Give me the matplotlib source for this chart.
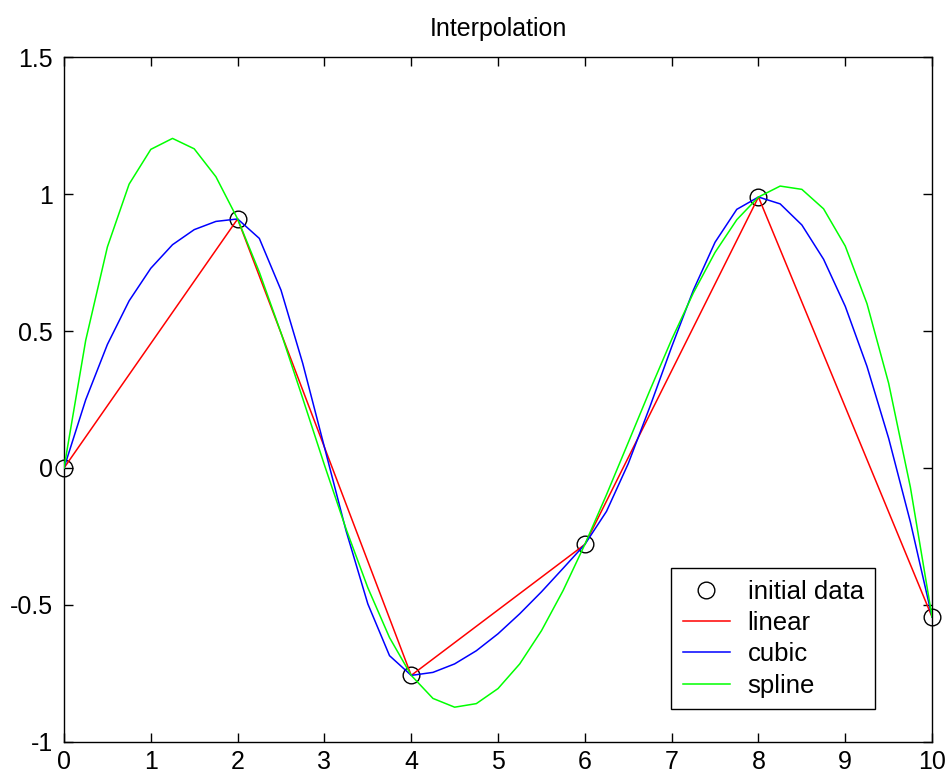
import matplotlib
matplotlib.use("Agg")
import matplotlib.pyplot as plt

plt.rcParams['font.family'] = ['Liberation Sans', 'DejaVu Sans']

# initial data
x_data = [0, 2, 4, 6, 8, 10]
y_data = [0.0, 0.909, -0.757, -0.279, 0.989, -0.544]

# fine grid 0:0.25:10
xi = [i * 0.25 for i in range(41)]

y_cubic = [
    0.000, 0.249, 0.451, 0.610, 0.729, 0.815, 0.870, 0.900,
    0.909, 0.838, 0.649, 0.382, 0.076, -0.230, -0.496, -0.685,
    -0.757, -0.746, -0.715, -0.667, -0.605, -0.532, -0.452, -0.366,
    -0.279, -0.158, 0.016, 0.224, 0.442, 0.649, 0.824, 0.944,
    0.989, 0.964, 0.887, 0.762, 0.590, 0.371, 0.108, -0.197,
    -0.544,
]

y_spline = [
    0.000, 0.466, 0.807, 1.036, 1.163, 1.203, 1.165, 1.063,
    0.909, 0.715, 0.493, 0.254, 0.011, -0.223, -0.437, -0.619,
    -0.757, -0.841, -0.873, -0.860, -0.805, -0.715, -0.594, -0.447,
    -0.279, -0.097, 0.093, 0.284, 0.469, 0.639, 0.787, 0.906,
    0.989, 1.029, 1.017, 0.946, 0.810, 0.600, 0.309, -0.070,
    -0.544,
]

labels = ['initial data', 'linear', 'cubic', 'spline']
x_ticks = [0, 1, 2, 3, 4, 5, 6, 7, 8, 9, 10]
y_ticks = [-1, -0.5, 0, 0.5, 1, 1.5]
y_tick_labels = ['-1', '-0.5', '0', '0.5', '1', '1.5']

fig = plt.figure(figsize=(9.51, 7.78), dpi=100)
fig.patch.set_facecolor('white')
ax = fig.add_axes([0.0673, 0.0463, 0.9128, 0.8804])

ax.plot(x_data, y_data, 'o', mfc='none', mec='black', ms=12, mew=1.0,
        label=labels[0], zorder=2, clip_on=False)
ax.plot(x_data, y_data, '-', color='#ff0000', lw=1.1, label=labels[1], zorder=3)
ax.plot(xi, y_cubic, '-', color='#0000ff', lw=1.1, label=labels[2], zorder=3)
ax.plot(xi, y_spline, '-', color='#00ff00', lw=1.1, label=labels[3], zorder=3)

ax.set_xlim(0, 10)
ax.set_ylim(-1, 1.5)
ax.set_xticks(x_ticks)
ax.set_xticklabels([str(t) for t in x_ticks])
ax.set_yticks(y_ticks)
ax.set_yticklabels(y_tick_labels)
ax.tick_params(direction='in', length=6.5, width=1, labelsize=18, pad=8,
               top=True, right=True, colors='black')
ax.tick_params(axis='x', pad=6)
for side in ['left', 'bottom', 'top', 'right']:
    ax.spines[side].set_linewidth(1.0)
    ax.spines[side].set_color('black')

ax.set_title('Interpolation', fontsize=18, pad=15)

leg = ax.legend(loc='lower right', bbox_to_anchor=(0.9345, 0.048),
                borderaxespad=0, fontsize=18.5, frameon=True, fancybox=False,
                edgecolor='black', framealpha=1, handlelength=1.85,
                handletextpad=0.68, labelspacing=0.28, borderpad=0.45)
leg.get_frame().set_linewidth(1.0)

fig.savefig('out.png', dpi=100, facecolor='white')
